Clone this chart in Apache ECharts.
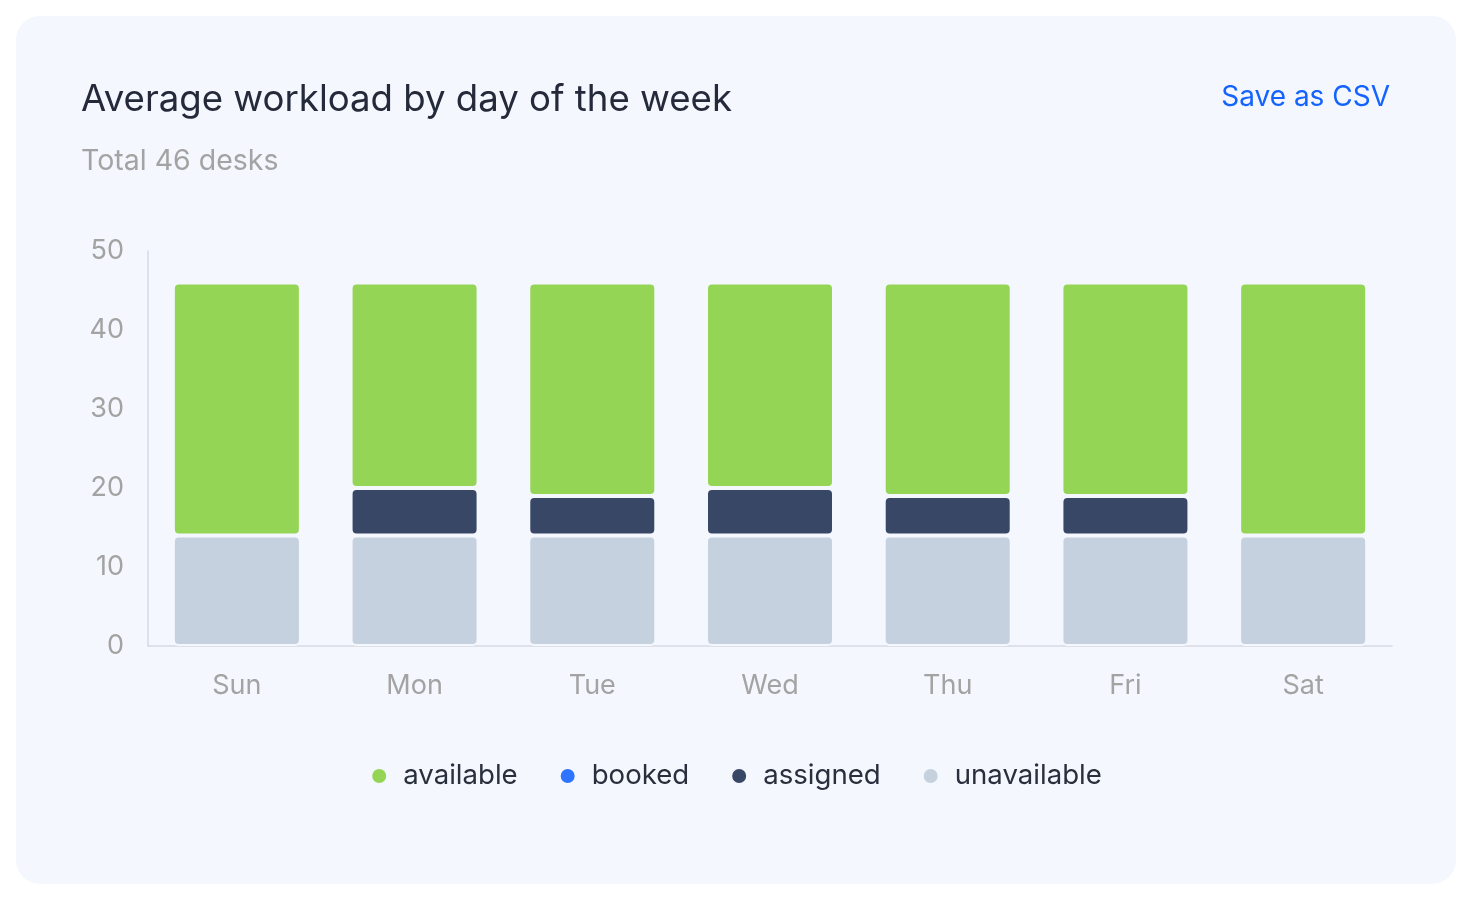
<!DOCTYPE html>
<html>
<head>
<meta charset="utf-8">
<script src="https://cdn.jsdelivr.net/npm/echarts@6/dist/echarts.min.js"></script>
<style>
  html, body { margin: 0; padding: 0; background: #ffffff; width: 1472px; height: 900px; overflow: hidden; }
  #card { position: absolute; left: 16px; top: 16px; width: 1440px; height: 868px; border-radius: 24px; background: #f4f7fe; }
  #chart { position: absolute; left: 0; top: 0; width: 1472px; height: 900px; }
</style>
</head>
<body>
<div id="card"></div>
<div id="chart"></div>
<script>
const categories = ['Sun', 'Mon', 'Tue', 'Wed', 'Thu', 'Fri', 'Sat'];
const available = [32, 26, 27, 26, 27, 27, 32];
const booked = [0, 0, 0, 0, 0, 0, 0];
const assigned = [0, 6, 5, 6, 5, 5, 0];
const unavailable = [14, 14, 14, 14, 14, 14, 14];
const yTicks = { min: 0, max: 50, interval: 10 };
const legendOrder = ['available', 'booked', 'assigned', 'unavailable'];

const FONT = 'Inter';
const CARD_BG = '#f4f7fe';
const colors = { available: '#94d555', booked: '#2f74ff', assigned: '#384766', unavailable: '#c5d1df' };

function barSeries(name, data) {
  return {
    name: name,
    type: 'bar',
    stack: 'total',
    data: data,
    barWidth: 128,
    itemStyle: { color: colors[name], borderColor: CARD_BG, borderWidth: 2, borderRadius: 5 },
    emphasis: { disabled: true }
  };
}

const chart = echarts.init(document.getElementById('chart'), null, { renderer: 'canvas' });
chart.setOption({
  animation: false,
  backgroundColor: 'transparent',
  textStyle: { fontFamily: FONT },
  title: [
    { text: 'Average workload by day of the week', left: 76, top: 76,
      textStyle: { fontFamily: FONT, fontSize: 36.6, fontWeight: 'normal', color: '#252a3a' } },
    { text: 'Total 46 desks', left: 76, top: 142,
      textStyle: { fontFamily: FONT, fontSize: 28.5, fontWeight: 'normal', color: '#a3a3a3' } }
  ],
  graphic: [
    { type: 'text', right: 82, top: 84,
      style: { text: 'Save as CSV', font: '28px ' + FONT, fill: '#1463ff' } }
  ],
  legend: {
    data: legendOrder,
    bottom: 105,
    left: 'center',
    icon: 'circle',
    itemWidth: 16,
    itemHeight: 16,
    itemGap: 41,
    selectedMode: false,
    textStyle: { fontFamily: FONT, fontSize: 27.6, color: '#2a2f3d', padding: [0, 0, 0, 11] }
  },
  grid: { left: 148, right: 80, top: 251, bottom: 254, containLabel: false },
  xAxis: {
    type: 'category',
    data: categories,
    axisLine: { show: true, lineStyle: { color: '#d6dae4', width: 1.5 } },
    axisTick: { show: false },
    axisLabel: { color: '#a3a3a3', fontSize: 27, fontFamily: FONT, margin: 26 }
  },
  yAxis: {
    type: 'value',
    min: yTicks.min,
    max: yTicks.max,
    interval: yTicks.interval,
    axisLine: { show: true, lineStyle: { color: '#d6dae4', width: 1.5 } },
    axisTick: { show: false },
    splitLine: { show: false },
    axisLabel: { color: '#a3a3a3', fontSize: 27, fontFamily: FONT, margin: 24 }
  },
  series: [
    barSeries('unavailable', unavailable),
    barSeries('assigned', assigned),
    barSeries('booked', booked),
    barSeries('available', available)
  ]
});
</script>
</body>
</html>
